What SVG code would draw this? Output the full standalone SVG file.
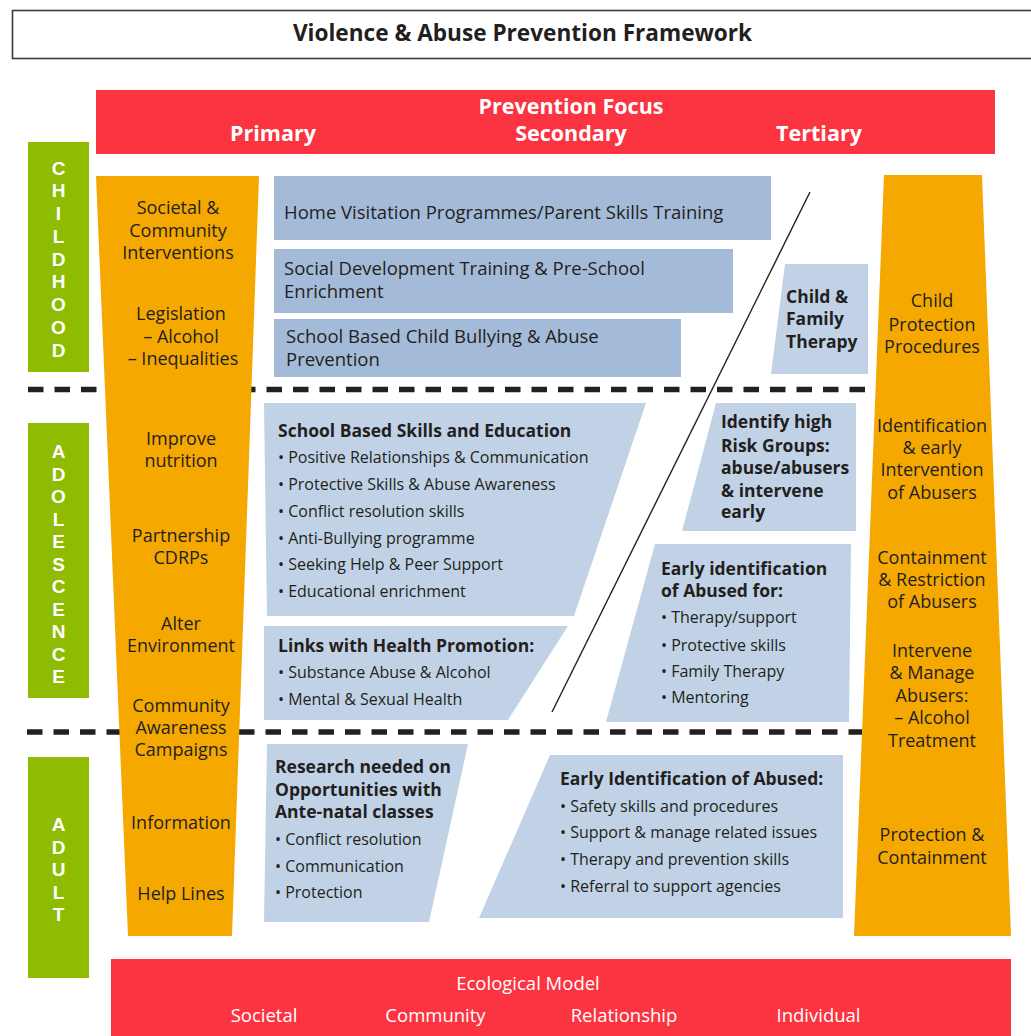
<svg xmlns="http://www.w3.org/2000/svg" width="1031" height="1036" viewBox="0 0 1031 1036">
<style>
text{font-family:"Open Sans","Liberation Sans",sans-serif;fill:#231f20}
.b{font-weight:bold}
.hdr{font-size:21.5px;font-weight:bold;fill:#fff;text-anchor:middle}
.stage{font-family:"Liberation Sans","Arial",sans-serif;font-size:19px;font-weight:bold;fill:#fff;text-anchor:middle}
.org{fill:#f5a800}
.ot{font-size:18px;text-anchor:middle}
.dk{fill:#a3bbd8}
.lt{fill:#c1d2e6}
.bt{font-size:18.5px}
.ttl{font-size:17.5px;font-weight:bold}
.li{font-size:16px}
.eco{font-size:18.5px;fill:#fff;text-anchor:middle}
.dash{stroke:#231f20;stroke-width:5.5;stroke-dasharray:15.5 11}
</style>
<rect width="1031" height="1036" fill="#fff"/>
<g id="title">
<rect x="12.5" y="10.5" width="1030" height="48" fill="#fff" stroke="#3a3a3a" stroke-width="1.6"/>
<text x="522.5" y="40.5" text-anchor="middle" class="b" style="font-size:22.6px">Violence &amp; Abuse Prevention Framework</text>
</g>
<g id="prevention-focus">
<rect x="96" y="90" width="899" height="64" fill="#fc3341"/>
<text x="571" y="113.5" class="hdr">Prevention Focus</text>
<text x="273" y="141" class="hdr">Primary</text>
<text x="571" y="141" class="hdr">Secondary</text>
<text x="819" y="141" class="hdr">Tertiary</text>
</g>
<g id="childhood">
<rect x="28" y="142" width="61" height="230" fill="#8fbb00"/>
<text class="stage"><tspan x="58.5" y="174.5">C</tspan><tspan x="58.5" y="197.3">H</tspan><tspan x="58.5" y="220">I</tspan><tspan x="58.5" y="242.8">L</tspan><tspan x="58.5" y="265.6">D</tspan><tspan x="58.5" y="288.4">H</tspan><tspan x="58.5" y="311.2">O</tspan><tspan x="58.5" y="334">O</tspan><tspan x="58.5" y="356.7">D</tspan></text>
</g>
<g id="adolescence">
<rect x="28" y="423" width="61" height="275" fill="#8fbb00"/>
<text class="stage"><tspan x="58.5" y="458">A</tspan><tspan x="58.5" y="480.5">D</tspan><tspan x="58.5" y="503">O</tspan><tspan x="58.5" y="525.5">L</tspan><tspan x="58.5" y="548">E</tspan><tspan x="58.5" y="570.5">S</tspan><tspan x="58.5" y="593">C</tspan><tspan x="58.5" y="615.5">E</tspan><tspan x="58.5" y="638">N</tspan><tspan x="58.5" y="660.5">C</tspan><tspan x="58.5" y="683">E</tspan></text>
</g>
<g id="adult">
<rect x="28" y="757" width="61" height="221" fill="#8fbb00"/>
<text class="stage"><tspan x="58.5" y="831">A</tspan><tspan x="58.5" y="853.5">D</tspan><tspan x="58.5" y="876">U</tspan><tspan x="58.5" y="898.5">L</tspan><tspan x="58.5" y="921">T</tspan></text>
</g>
<g id="connectors">
<line class="dash" x1="28" y1="389.5" x2="867" y2="389.5"/>
<line class="dash" x1="27" y1="732" x2="862" y2="732"/>
</g>
<g id="primary-column">
<polygon class="org" points="96,176 259,176 232,936 128,936"/>
<text class="ot"><tspan x="178" y="214">Societal &amp;</tspan><tspan x="178" y="236.5">Community</tspan><tspan x="178" y="259">Interventions</tspan></text>
<text class="ot"><tspan x="181" y="320">Legislation</tspan><tspan x="181" y="342.5">– Alcohol</tspan><tspan x="183" y="364.7">– Inequalities</tspan></text>
<text class="ot"><tspan x="181" y="444.5">Improve</tspan><tspan x="181" y="467">nutrition</tspan></text>
<text class="ot"><tspan x="181" y="541.5">Partnership</tspan><tspan x="181" y="563.5">CDRPs</tspan></text>
<text class="ot"><tspan x="181" y="630">Alter</tspan><tspan x="181" y="652">Environment</tspan></text>
<text class="ot"><tspan x="181" y="711.5">Community</tspan><tspan x="181" y="733.5">Awareness</tspan><tspan x="181" y="756">Campaigns</tspan></text>
<text class="ot" x="181" y="828.5">Information</text>
<text class="ot" x="181" y="900">Help Lines</text>
</g>
<g id="tertiary-column">
<polygon class="org" points="884,175 982,175 1011,936 854,936"/>
<text class="ot"><tspan x="932" y="306.5">Child</tspan><tspan x="932" y="330.5">Protection</tspan><tspan x="932" y="352.5">Procedures</tspan></text>
<text class="ot"><tspan x="932" y="431.5">Identification</tspan><tspan x="932" y="453.5">&amp; early</tspan><tspan x="932" y="476">Intervention</tspan><tspan x="932" y="498.5">of Abusers</tspan></text>
<text class="ot"><tspan x="932" y="564">Containment</tspan><tspan x="932" y="586">&amp; Restriction</tspan><tspan x="932" y="607.7">of Abusers</tspan></text>
<text class="ot"><tspan x="932" y="656.5">Intervene</tspan><tspan x="932" y="679">&amp; Manage</tspan><tspan x="932" y="701.5">Abusers:</tspan><tspan x="932" y="723.7">– Alcohol</tspan><tspan x="932" y="746.5">Treatment</tspan></text>
<text class="ot"><tspan x="932" y="840.5">Protection &amp;</tspan><tspan x="932" y="863.5">Containment</tspan></text>
</g>
<g id="home-visitation">
<rect class="dk" x="274" y="176" width="497" height="64"/>
<text class="bt" x="284" y="219">Home Visitation Programmes/Parent Skills Training</text>
</g>
<g id="social-development">
<rect class="dk" x="274" y="249" width="459" height="64"/>
<text class="bt"><tspan x="284" y="274.7">Social Development Training &amp; Pre-School</tspan><tspan x="284" y="297.8">Enrichment</tspan></text>
</g>
<g id="school-bullying">
<rect class="dk" x="274" y="319" width="407" height="58"/>
<text class="bt"><tspan x="286" y="342.5">School Based Child Bullying &amp; Abuse</tspan><tspan x="286" y="365.5">Prevention</tspan></text>
</g>
<g id="child-family-therapy">
<polygon class="lt" points="785,264 868,264 868,374 771,374"/>
<text class="ttl"><tspan x="786" y="302.5">Child &amp;</tspan><tspan x="786" y="325">Family</tspan><tspan x="786" y="348">Therapy</tspan></text>
</g>
<g id="school-skills">
<polygon class="lt" points="264,403 646,403 574,616 267,616"/>
<text class="ttl" x="278" y="436.5">School Based Skills and Education</text>
<text class="li"><tspan x="278" y="463.3">• Positive Relationships &amp; Communication</tspan><tspan x="278" y="490">• Protective Skills &amp; Abuse Awareness</tspan><tspan x="278" y="516.7">• Conflict resolution skills</tspan><tspan x="278" y="543.5">• Anti-Bullying programme</tspan><tspan x="278" y="570">• Seeking Help &amp; Peer Support</tspan><tspan x="278" y="596.7">• Educational enrichment</tspan></text>
</g>
<g id="health-promotion">
<polygon class="lt" points="264,626 568,626 508,720 264,720"/>
<text class="ttl" x="278" y="651.5">Links with Health Promotion:</text>
<text class="li"><tspan x="278" y="678.3">• Substance Abuse &amp; Alcohol</tspan><tspan x="278" y="705">• Mental &amp; Sexual Health</tspan></text>
</g>
<g id="high-risk-groups">
<polygon class="lt" points="716,403 856,403 856,531 682,531"/>
<text class="ttl"><tspan x="721" y="428.3">Identify high</tspan><tspan x="721" y="451.5">Risk Groups:</tspan><tspan x="721" y="473.5">abuse/abusers</tspan><tspan x="721" y="496.5">&amp; intervene</tspan><tspan x="721" y="518.3">early</tspan></text>
</g>
<g id="early-identification-abused-for">
<polygon class="lt" points="655,544 851,544 849,722 606,722"/>
<text class="ttl"><tspan x="661" y="575">Early identification</tspan><tspan x="661" y="596.7">of Abused for:</tspan></text>
<text class="li"><tspan x="661" y="623.3">• Therapy/support</tspan><tspan x="661" y="650.5">• Protective skills</tspan><tspan x="661" y="676.7">• Family Therapy</tspan><tspan x="661" y="703.3">• Mentoring</tspan></text>
</g>
<g id="research-needed">
<polygon class="lt" points="267,744 468,744 429,922 264,922"/>
<text class="ttl"><tspan x="275" y="773.3">Research needed on</tspan><tspan x="275" y="796">Opportunities with</tspan><tspan x="275" y="818.3">Ante-natal classes</tspan></text>
<text class="li"><tspan x="275" y="845">• Conflict resolution</tspan><tspan x="275" y="871.7">• Communication</tspan><tspan x="275" y="898.3">• Protection</tspan></text>
</g>
<g id="early-identification-abused">
<polygon class="lt" points="550,755 843,755 843,918 479,918"/>
<text class="ttl" x="560" y="785">Early Identification of Abused:</text>
<text class="li"><tspan x="560" y="811.7">• Safety skills and procedures</tspan><tspan x="560" y="838.3">• Support &amp; manage related issues</tspan><tspan x="560" y="865">• Therapy and prevention skills</tspan><tspan x="560" y="891.7">• Referral to support agencies</tspan></text>
</g>
<g id="divider">
<line x1="810" y1="192" x2="552" y2="712" stroke="#231f20" stroke-width="1.4"/>
</g>
<g id="ecological-model">
<rect x="111" y="959" width="900" height="77" fill="#fc3341"/>
<text class="eco" x="528" y="990">Ecological Model</text>
<text class="eco" x="264" y="1022">Societal</text>
<text class="eco" x="435.5" y="1022">Community</text>
<text class="eco" x="624" y="1022">Relationship</text>
<text class="eco" x="818.5" y="1022">Individual</text>
</g>
</svg>
